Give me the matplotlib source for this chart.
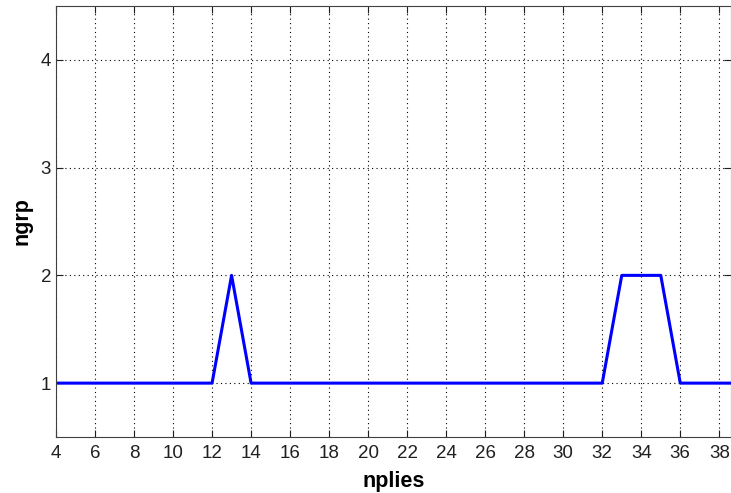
import matplotlib
matplotlib.use("Agg")
import matplotlib.pyplot as plt

# data
nplies = [4, 5, 6, 7, 8, 9, 10, 11, 12, 13, 14, 15, 16, 17, 18, 19, 20, 21, 22,
          23, 24, 25, 26, 27, 28, 29, 30, 31, 32, 33, 34, 35, 36, 37, 38, 39, 40]
ngrp = [1, 1, 1, 1, 1, 1, 1, 1, 1, 2, 1, 1, 1, 1, 1, 1, 1, 1, 1,
        1, 1, 1, 1, 1, 1, 1, 1, 1, 1, 2, 2, 2, 1, 1, 1, 1, 1]
xticks = list(range(4, 40, 2))
yticks = [1, 2, 3, 4]

plt.rcParams['font.family'] = ['Liberation Sans', 'DejaVu Sans']

fig = plt.figure(figsize=(7.31, 4.93), dpi=100)
ax = fig.add_axes([56 / 731, (493 - 437) / 493, (731 - 56) / 731, (437 - 6) / 493])

ax.plot(nplies, ngrp, color='#0000ff', linewidth=2.2)

ax.set_xlim(4, 38.6)
ax.set_ylim(0.5, 4.5)
ax.set_xticks(xticks)
ax.set_yticks(yticks)
ax.grid(True, linestyle=(0, (1, 3)), color='black', linewidth=0.8)
ax.tick_params(direction='in', top=True, right=True, labelsize=13.5, length=5,
               colors='#202020')
ax.tick_params(axis='x', pad=6)
for s in ax.spines.values():
    s.set_color('#404040')
ax.set_xlabel("nplies", fontsize=15.5, fontweight='bold', labelpad=6)
ax.set_ylabel("ngrp", fontsize=15.5, fontweight='bold', labelpad=6)

fig.savefig("out.png", dpi=100)
